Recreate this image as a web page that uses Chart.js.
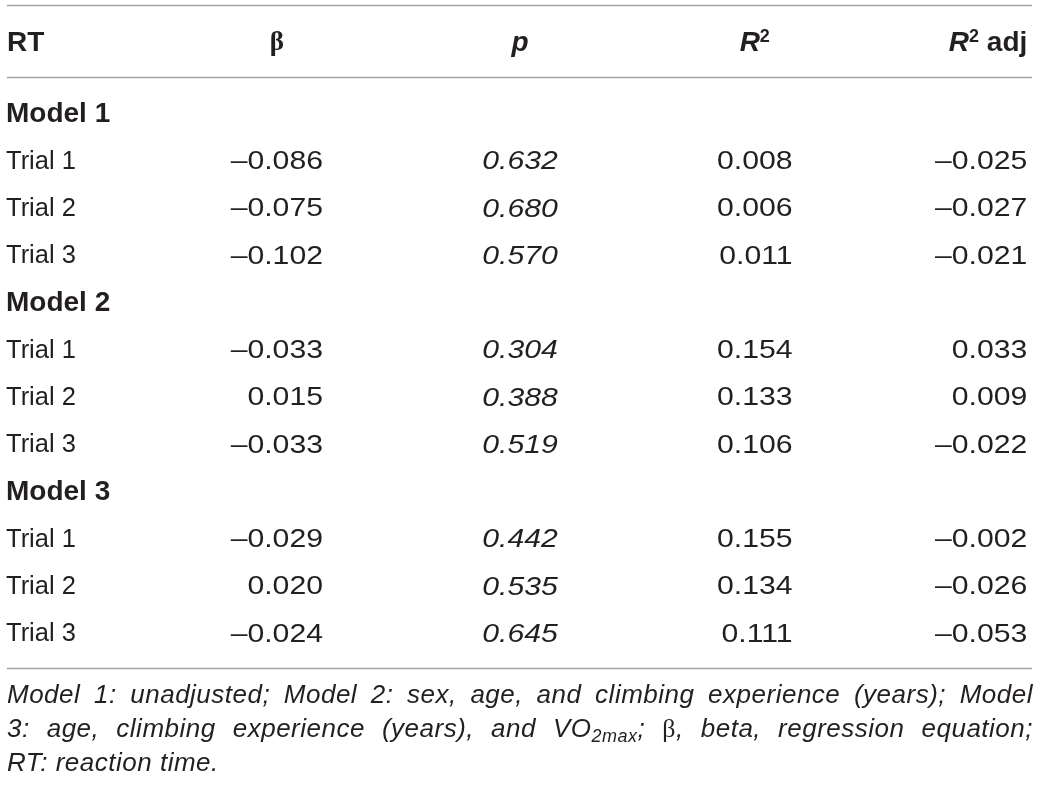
<!DOCTYPE html>
<html>
<head>
<meta charset="utf-8">
<script src="https://cdn.jsdelivr.net/npm/chart.js@4.4.1/dist/chart.umd.min.js"></script>
<style>
  html, body { margin: 0; padding: 0; background: #ffffff; }
  #wrap { width: 1041px; height: 787px; position: relative; }
</style>
</head>
<body>
<div id="wrap"><canvas id="c"></canvas></div>
<script>
// ---- data ----
const rowLabels = ['Model 1', 'Trial 1', 'Trial 2', 'Trial 3',
                   'Model 2', 'Trial 1', 'Trial 2', 'Trial 3',
                   'Model 3', 'Trial 1', 'Trial 2', 'Trial 3'];
const columnHeaders = ['β', 'p', 'R2', 'R2 adj'];
const beta   = [null, -0.086, -0.075, -0.102, null, -0.033, 0.015, -0.033, null, -0.029, 0.020, -0.024];
const pValue = [null, 0.632, 0.680, 0.570, null, 0.304, 0.388, 0.519, null, 0.442, 0.535, 0.645];
const r2     = [null, 0.008, 0.006, 0.011, null, 0.154, 0.133, 0.106, null, 0.155, 0.134, 0.111];
const r2adj  = [null, -0.025, -0.027, -0.021, null, 0.033, 0.009, -0.022, null, -0.002, -0.026, -0.053];
const firstHeader = 'RT';
const footnoteLines = [
  'Model 1: unadjusted; Model 2: sex, age, and climbing experience (years); Model',
  '3: age, climbing experience (years), and VO|2max|; β, beta, regression equation;',
  'RT: reaction time.'
];

// ---- styles ----
const INK = '#231f20';
const RULE = '#a3a3a3';
const SANS = '"Liberation Sans", Arial, Helvetica, sans-serif';
const SERIF = '"Liberation Serif", "Times New Roman", serif';

const columns = [
  { key: columnHeaders[0], values: beta,   italic: false },
  { key: columnHeaders[1], values: pValue, italic: true },
  { key: columnHeaders[2], values: r2,     italic: false },
  { key: columnHeaders[3], values: r2adj,  italic: false }
];

function fmt(v) {
  const s = Math.abs(v).toFixed(3);
  return v < 0 ? '\u2013' + s : s;
}

const tablePlugin = {
  id: 'tablePlugin',
  afterDraw(chart) {
    const ctx = chart.ctx;
    const xL = 7, xR = chart.width - 9;
    ctx.save();

    // rules
    ctx.strokeStyle = RULE;
    ctx.lineWidth = 1.5;
    [5.5, 77.5, 668.5].forEach(y => {
      ctx.beginPath(); ctx.moveTo(xL, y); ctx.lineTo(xR, y); ctx.stroke();
    });

    ctx.fillStyle = INK;
    ctx.textBaseline = 'middle';
    const headY = 43;

    ctx.font = 'bold 28px ' + SANS;
    ctx.textAlign = 'left';
    ctx.fillText(firstHeader, 7, headY);

    // values + headers
    const SX = 1.14;
    columns.forEach((col, ci) => {
      const meta = chart.getDatasetMeta(ci);
      ctx.font = (col.italic ? 'italic ' : '') + '26.5px ' + SANS;
      ctx.textAlign = 'right';
      let sampleW = 0, colX = 0;
      meta.data.forEach((el, ri) => {
        const v = col.values[ri];
        if (v === null || v === undefined) return;
        const t = fmt(v);
        ctx.save();
        ctx.translate(el.x, el.y);
        ctx.scale(SX, 1);
        ctx.fillText(t, 0, 0);
        ctx.restore();
        if (!sampleW) { sampleW = ctx.measureText(t).width * SX; colX = el.x; }
      });

      const center = colX - sampleW / 2;
      ctx.textAlign = 'left';
      if (col.key === 'β') {
        ctx.font = 'bold 27px ' + SERIF;
        const w = ctx.measureText('β').width;
        ctx.fillText('β', center - w / 2, headY);
      } else if (col.key === 'p') {
        ctx.font = 'italic bold 28px ' + SANS;
        const w = ctx.measureText('p').width;
        ctx.fillText('p', center - w / 2, headY);
      } else {
        const parts = [
          { t: 'R', f: 'italic bold 28px ' + SANS, dy: 0 },
          { t: '2', f: 'bold 18px ' + SANS, dy: -6 }
        ];
        const isAdj = col.key.endsWith('adj');
        if (isAdj) parts.push({ t: ' adj', f: 'bold 28px ' + SANS, dy: 0 });
        let total = 0;
        parts.forEach(p => { ctx.font = p.f; p.w = ctx.measureText(p.t).width; total += p.w; });
        let x = isAdj ? colX - total : center - total / 2;
        parts.forEach(p => { ctx.font = p.f; ctx.fillText(p.t, x, headY + p.dy); x += p.w; });
      }
    });

    // footnote
    const fy = [696, 730, 764];
    const itF = 'italic 26px ' + SANS;
    footnoteLines.forEach((line, li) => {
      const segs = [];
      line.split('|').forEach((s, si) => {
        if (si % 2 === 1) { segs.push({ t: s, f: 'italic 18px ' + SANS, dy: 7 }); return; }
        s.split(/(β)/).forEach(pt => {
          if (!pt) return;
          if (pt === 'β') segs.push({ t: pt, f: '26px ' + SERIF, dy: 0 });
          else segs.push({ t: pt, f: itF, dy: 0 });
        });
      });
      const pieces = [];
      segs.forEach(sg => {
        sg.t.split(' ').forEach((p, i) => {
          if (i > 0) pieces.push({ gap: true });
          if (p) pieces.push({ t: p, f: sg.f, dy: sg.dy });
        });
      });
      ctx.letterSpacing = '0.5px';
      let wordsW = 0, gaps = 0;
      pieces.forEach(p => {
        if (p.gap) { gaps++; return; }
        ctx.font = p.f; p.w = ctx.measureText(p.t).width; wordsW += p.w;
      });
      ctx.font = itF;
      const natGap = ctx.measureText(' ').width;
      const justify = li < footnoteLines.length - 1;
      const gapW = justify ? (xR + 1 - xL - wordsW) / gaps : natGap;
      let x = xL;
      ctx.textAlign = 'left';
      pieces.forEach(p => {
        if (p.gap) { x += gapW; return; }
        ctx.font = p.f;
        ctx.fillText(p.t, x, fy[li] + p.dy);
        x += p.w;
      });
      ctx.letterSpacing = '0px';
    });

    ctx.restore();
  }
};

new Chart(document.getElementById('c'), {
  type: 'line',
  data: {
    labels: rowLabels,
    datasets: columns.map((col, ci) => ({
      label: col.key,
      data: col.values.map((v, ri) => ({ x: ci, y: ri })),
      showLine: false,
      pointRadius: 0,
      pointHoverRadius: 0
    }))
  },
  options: {
    responsive: true,
    maintainAspectRatio: false,
    animation: false,
    events: [],
    layout: { padding: { top: 91, bottom: 129, left: 6, right: 9 } },
    plugins: { legend: { display: false }, tooltip: { enabled: false } },
    scales: {
      x: { type: 'linear', min: -0.72, max: 3.02, display: false },
      y: {
        type: 'category',
        offset: true,
        grid: { display: false },
        border: { display: false },
        afterFit: s => { s.width = 148; },
        ticks: {
          autoSkip: false,
          crossAlign: 'far',
          color: INK,
          font: c => rowLabels[c.index] && rowLabels[c.index].startsWith('Model')
            ? { family: SANS, size: 28, weight: 'bold' }
            : { family: SANS, size: 25.5, weight: 'normal' }
        }
      }
    }
  },
  plugins: [tablePlugin]
});
</script>
</body>
</html>
